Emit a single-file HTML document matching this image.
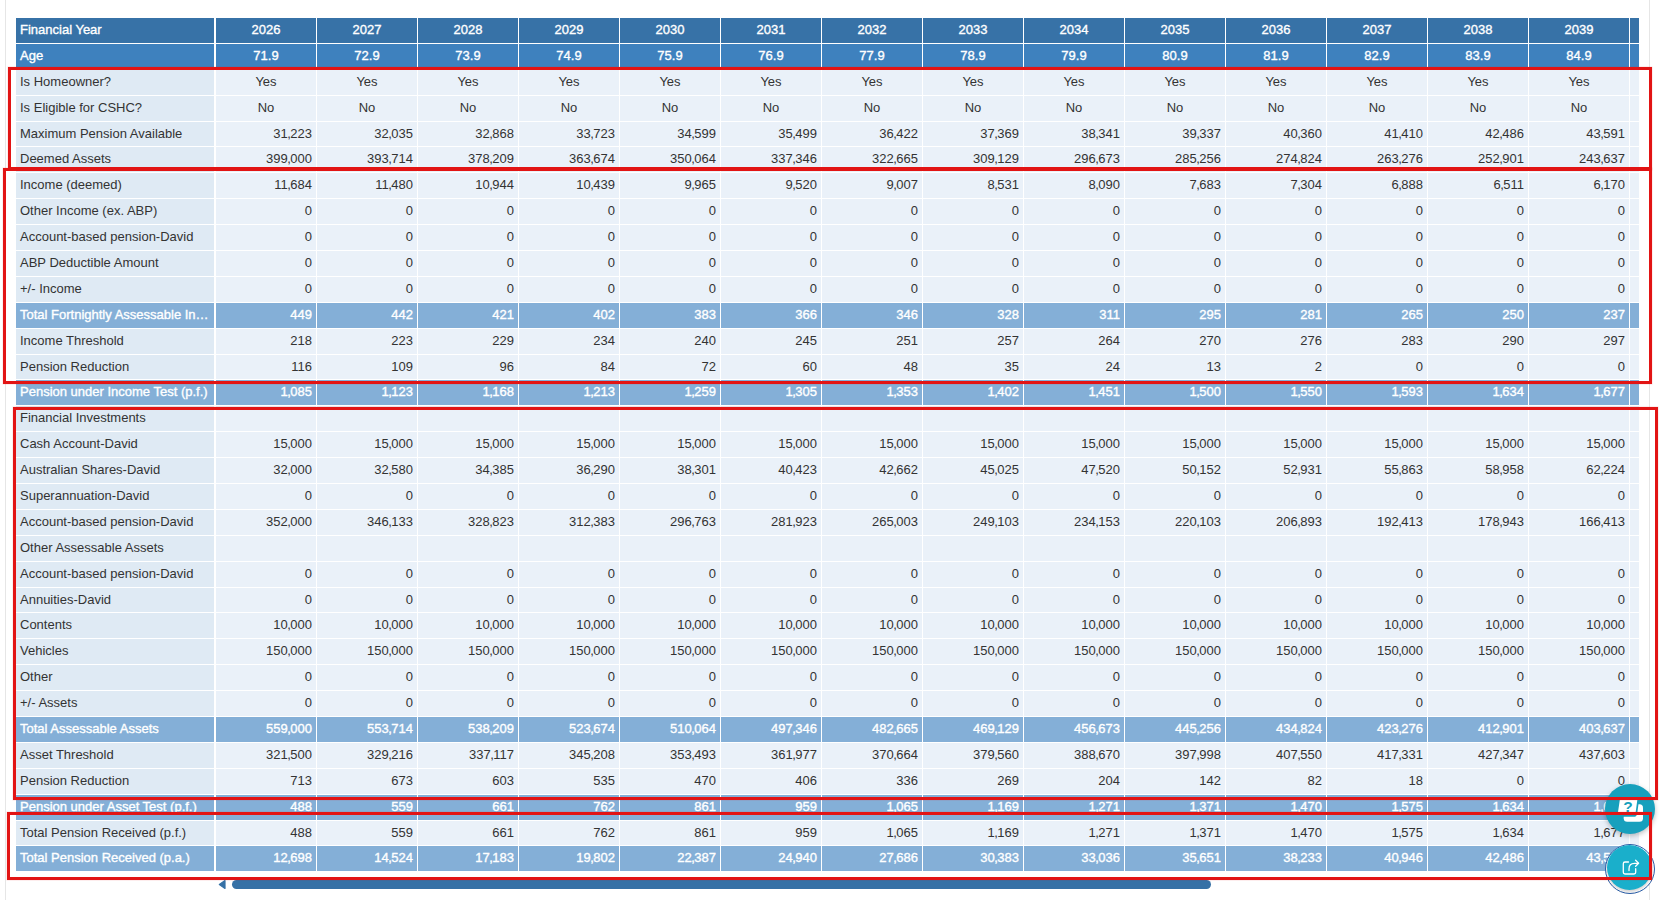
<!DOCTYPE html><html><head><meta charset="utf-8"><title>Pension Projection</title><style>
*{margin:0;padding:0;box-sizing:border-box}
html,body{width:1664px;height:900px;overflow:hidden;background:#fff}
body{position:relative;font-family:"Liberation Sans",sans-serif;font-size:13px;color:#333333}
.r{position:absolute;left:16px;width:1623px}
.r>div{position:absolute;top:0;bottom:0;white-space:nowrap;overflow:hidden;line-height:23px}
.l{left:0;width:198px;padding-left:4px;background:#dfeaf4}
.d{width:100px;background:#eaf1f9;text-align:right;padding-right:4px}
.x{left:1614px;width:9px;background:#eaf1f9}
.c .d{text-align:center;padding-right:0}
.h0>div{background:#3772a7!important;color:#fff;-webkit-text-stroke:0.35px #fff}
.h1>div{background:#3e81be!important;color:#fff;-webkit-text-stroke:0.35px #fff}
.t>div{background:#84afd7!important;color:#fff;-webkit-text-stroke:0.35px #fff}
i{font-style:normal;margin:0 -.5px}
.u>div{line-height:21px}
.dn>div{line-height:25px}
.vl{position:absolute;top:0;width:1px;height:900px;background:#e6e6e6}
.sb-thumb{position:absolute;left:232px;top:880px;width:979px;height:9px;border-radius:4.5px;background:#3671a6}
.sb-arrow{position:absolute;left:218px;top:879px;width:9px;height:11px}
.help{position:absolute;left:1605px;top:784px;width:50px;height:50px;border-radius:50%;background:#17a0bd;box-shadow:0 2px 5px rgba(0,0,0,.25);z-index:3}
.help svg,.share svg{position:absolute;left:0;top:0}
.share-ring{position:absolute;left:1605px;top:844px;width:50px;height:50px;border-radius:50%;border:1.2px solid #2a5ea8;background:#fff;z-index:3}
.share{position:absolute;left:1607px;top:845px;width:45px;height:45px;border-radius:50%;background:#1aafcb;box-shadow:0 2px 3px rgba(0,0,0,.18);z-index:4}
.bx{position:absolute;border:3px solid #e21414;z-index:5;box-shadow:0 0 0 .5px rgba(226,20,20,.15)}
</style></head><body>
<div class="vl" style="left:5px"></div><div class="vl" style="left:1649px"></div>
<div class="r h0 c" style="top:18px;height:25px"><div class="l">Financial Year</div><div class="d" style="left:200px">2026</div><div class="d" style="left:301px">2027</div><div class="d" style="left:402px">2028</div><div class="d" style="left:503px">2029</div><div class="d" style="left:604px">2030</div><div class="d" style="left:705px">2031</div><div class="d" style="left:806px">2032</div><div class="d" style="left:907px">2033</div><div class="d" style="left:1008px">2034</div><div class="d" style="left:1109px">2035</div><div class="d" style="left:1210px">2036</div><div class="d" style="left:1311px">2037</div><div class="d" style="left:1412px">2038</div><div class="d" style="left:1513px">2039</div><div class="x"></div></div>
<div class="r h1 c" style="top:44px;height:25px"><div class="l">Age</div><div class="d" style="left:200px">71.9</div><div class="d" style="left:301px">72.9</div><div class="d" style="left:402px">73.9</div><div class="d" style="left:503px">74.9</div><div class="d" style="left:604px">75.9</div><div class="d" style="left:705px">76.9</div><div class="d" style="left:806px">77.9</div><div class="d" style="left:907px">78.9</div><div class="d" style="left:1008px">79.9</div><div class="d" style="left:1109px">80.9</div><div class="d" style="left:1210px">81.9</div><div class="d" style="left:1311px">82.9</div><div class="d" style="left:1412px">83.9</div><div class="d" style="left:1513px">84.9</div><div class="x"></div></div>
<div class="r c" style="top:70px;height:25px"><div class="l">Is Homeowner?</div><div class="d" style="left:200px">Yes</div><div class="d" style="left:301px">Yes</div><div class="d" style="left:402px">Yes</div><div class="d" style="left:503px">Yes</div><div class="d" style="left:604px">Yes</div><div class="d" style="left:705px">Yes</div><div class="d" style="left:806px">Yes</div><div class="d" style="left:907px">Yes</div><div class="d" style="left:1008px">Yes</div><div class="d" style="left:1109px">Yes</div><div class="d" style="left:1210px">Yes</div><div class="d" style="left:1311px">Yes</div><div class="d" style="left:1412px">Yes</div><div class="d" style="left:1513px">Yes</div><div class="x"></div></div>
<div class="r c" style="top:96px;height:25px"><div class="l">Is Eligible for CSHC?</div><div class="d" style="left:200px">No</div><div class="d" style="left:301px">No</div><div class="d" style="left:402px">No</div><div class="d" style="left:503px">No</div><div class="d" style="left:604px">No</div><div class="d" style="left:705px">No</div><div class="d" style="left:806px">No</div><div class="d" style="left:907px">No</div><div class="d" style="left:1008px">No</div><div class="d" style="left:1109px">No</div><div class="d" style="left:1210px">No</div><div class="d" style="left:1311px">No</div><div class="d" style="left:1412px">No</div><div class="d" style="left:1513px">No</div><div class="x"></div></div>
<div class="r" style="top:122px;height:24px"><div class="l">Maximum Pension Available</div><div class="d" style="left:200px">31<i>,</i>223</div><div class="d" style="left:301px">32<i>,</i>035</div><div class="d" style="left:402px">32<i>,</i>868</div><div class="d" style="left:503px">33<i>,</i>723</div><div class="d" style="left:604px">34<i>,</i>599</div><div class="d" style="left:705px">35<i>,</i>499</div><div class="d" style="left:806px">36<i>,</i>422</div><div class="d" style="left:907px">37<i>,</i>369</div><div class="d" style="left:1008px">38<i>,</i>341</div><div class="d" style="left:1109px">39<i>,</i>337</div><div class="d" style="left:1210px">40<i>,</i>360</div><div class="d" style="left:1311px">41<i>,</i>410</div><div class="d" style="left:1412px">42<i>,</i>486</div><div class="d" style="left:1513px">43<i>,</i>591</div><div class="x"></div></div>
<div class="r" style="top:147px;height:25px"><div class="l">Deemed Assets</div><div class="d" style="left:200px">399<i>,</i>000</div><div class="d" style="left:301px">393<i>,</i>714</div><div class="d" style="left:402px">378<i>,</i>209</div><div class="d" style="left:503px">363<i>,</i>674</div><div class="d" style="left:604px">350<i>,</i>064</div><div class="d" style="left:705px">337<i>,</i>346</div><div class="d" style="left:806px">322<i>,</i>665</div><div class="d" style="left:907px">309<i>,</i>129</div><div class="d" style="left:1008px">296<i>,</i>673</div><div class="d" style="left:1109px">285<i>,</i>256</div><div class="d" style="left:1210px">274<i>,</i>824</div><div class="d" style="left:1311px">263<i>,</i>276</div><div class="d" style="left:1412px">252<i>,</i>901</div><div class="d" style="left:1513px">243<i>,</i>637</div><div class="x"></div></div>
<div class="r" style="top:173px;height:25px"><div class="l">Income (deemed)</div><div class="d" style="left:200px">11<i>,</i>684</div><div class="d" style="left:301px">11<i>,</i>480</div><div class="d" style="left:402px">10<i>,</i>944</div><div class="d" style="left:503px">10<i>,</i>439</div><div class="d" style="left:604px">9<i>,</i>965</div><div class="d" style="left:705px">9<i>,</i>520</div><div class="d" style="left:806px">9<i>,</i>007</div><div class="d" style="left:907px">8<i>,</i>531</div><div class="d" style="left:1008px">8<i>,</i>090</div><div class="d" style="left:1109px">7<i>,</i>683</div><div class="d" style="left:1210px">7<i>,</i>304</div><div class="d" style="left:1311px">6<i>,</i>888</div><div class="d" style="left:1412px">6<i>,</i>511</div><div class="d" style="left:1513px">6<i>,</i>170</div><div class="x"></div></div>
<div class="r" style="top:199px;height:25px"><div class="l">Other Income (ex. ABP)</div><div class="d" style="left:200px">0</div><div class="d" style="left:301px">0</div><div class="d" style="left:402px">0</div><div class="d" style="left:503px">0</div><div class="d" style="left:604px">0</div><div class="d" style="left:705px">0</div><div class="d" style="left:806px">0</div><div class="d" style="left:907px">0</div><div class="d" style="left:1008px">0</div><div class="d" style="left:1109px">0</div><div class="d" style="left:1210px">0</div><div class="d" style="left:1311px">0</div><div class="d" style="left:1412px">0</div><div class="d" style="left:1513px">0</div><div class="x"></div></div>
<div class="r" style="top:225px;height:25px"><div class="l">Account-based pension-David</div><div class="d" style="left:200px">0</div><div class="d" style="left:301px">0</div><div class="d" style="left:402px">0</div><div class="d" style="left:503px">0</div><div class="d" style="left:604px">0</div><div class="d" style="left:705px">0</div><div class="d" style="left:806px">0</div><div class="d" style="left:907px">0</div><div class="d" style="left:1008px">0</div><div class="d" style="left:1109px">0</div><div class="d" style="left:1210px">0</div><div class="d" style="left:1311px">0</div><div class="d" style="left:1412px">0</div><div class="d" style="left:1513px">0</div><div class="x"></div></div>
<div class="r" style="top:251px;height:25px"><div class="l">ABP Deductible Amount</div><div class="d" style="left:200px">0</div><div class="d" style="left:301px">0</div><div class="d" style="left:402px">0</div><div class="d" style="left:503px">0</div><div class="d" style="left:604px">0</div><div class="d" style="left:705px">0</div><div class="d" style="left:806px">0</div><div class="d" style="left:907px">0</div><div class="d" style="left:1008px">0</div><div class="d" style="left:1109px">0</div><div class="d" style="left:1210px">0</div><div class="d" style="left:1311px">0</div><div class="d" style="left:1412px">0</div><div class="d" style="left:1513px">0</div><div class="x"></div></div>
<div class="r" style="top:277px;height:25px"><div class="l">+/- Income</div><div class="d" style="left:200px">0</div><div class="d" style="left:301px">0</div><div class="d" style="left:402px">0</div><div class="d" style="left:503px">0</div><div class="d" style="left:604px">0</div><div class="d" style="left:705px">0</div><div class="d" style="left:806px">0</div><div class="d" style="left:907px">0</div><div class="d" style="left:1008px">0</div><div class="d" style="left:1109px">0</div><div class="d" style="left:1210px">0</div><div class="d" style="left:1311px">0</div><div class="d" style="left:1412px">0</div><div class="d" style="left:1513px">0</div><div class="x"></div></div>
<div class="r t" style="top:303px;height:25px"><div class="l">Total Fortnightly Assessable In…</div><div class="d" style="left:200px">449</div><div class="d" style="left:301px">442</div><div class="d" style="left:402px">421</div><div class="d" style="left:503px">402</div><div class="d" style="left:604px">383</div><div class="d" style="left:705px">366</div><div class="d" style="left:806px">346</div><div class="d" style="left:907px">328</div><div class="d" style="left:1008px">311</div><div class="d" style="left:1109px">295</div><div class="d" style="left:1210px">281</div><div class="d" style="left:1311px">265</div><div class="d" style="left:1412px">250</div><div class="d" style="left:1513px">237</div><div class="x"></div></div>
<div class="r" style="top:329px;height:25px"><div class="l">Income Threshold</div><div class="d" style="left:200px">218</div><div class="d" style="left:301px">223</div><div class="d" style="left:402px">229</div><div class="d" style="left:503px">234</div><div class="d" style="left:604px">240</div><div class="d" style="left:705px">245</div><div class="d" style="left:806px">251</div><div class="d" style="left:907px">257</div><div class="d" style="left:1008px">264</div><div class="d" style="left:1109px">270</div><div class="d" style="left:1210px">276</div><div class="d" style="left:1311px">283</div><div class="d" style="left:1412px">290</div><div class="d" style="left:1513px">297</div><div class="x"></div></div>
<div class="r" style="top:355px;height:24px"><div class="l">Pension Reduction</div><div class="d" style="left:200px">116</div><div class="d" style="left:301px">109</div><div class="d" style="left:402px">96</div><div class="d" style="left:503px">84</div><div class="d" style="left:604px">72</div><div class="d" style="left:705px">60</div><div class="d" style="left:806px">48</div><div class="d" style="left:907px">35</div><div class="d" style="left:1008px">24</div><div class="d" style="left:1109px">13</div><div class="d" style="left:1210px">2</div><div class="d" style="left:1311px">0</div><div class="d" style="left:1412px">0</div><div class="d" style="left:1513px">0</div><div class="x"></div></div>
<div class="r t" style="top:380px;height:25px"><div class="l">Pension under Income Test (p.f.)</div><div class="d" style="left:200px">1<i>,</i>085</div><div class="d" style="left:301px">1<i>,</i>123</div><div class="d" style="left:402px">1<i>,</i>168</div><div class="d" style="left:503px">1<i>,</i>213</div><div class="d" style="left:604px">1<i>,</i>259</div><div class="d" style="left:705px">1<i>,</i>305</div><div class="d" style="left:806px">1<i>,</i>353</div><div class="d" style="left:907px">1<i>,</i>402</div><div class="d" style="left:1008px">1<i>,</i>451</div><div class="d" style="left:1109px">1<i>,</i>500</div><div class="d" style="left:1210px">1<i>,</i>550</div><div class="d" style="left:1311px">1<i>,</i>593</div><div class="d" style="left:1412px">1<i>,</i>634</div><div class="d" style="left:1513px">1<i>,</i>677</div><div class="x"></div></div>
<div class="r" style="top:406px;height:25px"><div class="l">Financial Investments</div><div class="d" style="left:200px"></div><div class="d" style="left:301px"></div><div class="d" style="left:402px"></div><div class="d" style="left:503px"></div><div class="d" style="left:604px"></div><div class="d" style="left:705px"></div><div class="d" style="left:806px"></div><div class="d" style="left:907px"></div><div class="d" style="left:1008px"></div><div class="d" style="left:1109px"></div><div class="d" style="left:1210px"></div><div class="d" style="left:1311px"></div><div class="d" style="left:1412px"></div><div class="d" style="left:1513px"></div><div class="x"></div></div>
<div class="r" style="top:432px;height:25px"><div class="l">Cash Account-David</div><div class="d" style="left:200px">15<i>,</i>000</div><div class="d" style="left:301px">15<i>,</i>000</div><div class="d" style="left:402px">15<i>,</i>000</div><div class="d" style="left:503px">15<i>,</i>000</div><div class="d" style="left:604px">15<i>,</i>000</div><div class="d" style="left:705px">15<i>,</i>000</div><div class="d" style="left:806px">15<i>,</i>000</div><div class="d" style="left:907px">15<i>,</i>000</div><div class="d" style="left:1008px">15<i>,</i>000</div><div class="d" style="left:1109px">15<i>,</i>000</div><div class="d" style="left:1210px">15<i>,</i>000</div><div class="d" style="left:1311px">15<i>,</i>000</div><div class="d" style="left:1412px">15<i>,</i>000</div><div class="d" style="left:1513px">15<i>,</i>000</div><div class="x"></div></div>
<div class="r" style="top:458px;height:25px"><div class="l">Australian Shares-David</div><div class="d" style="left:200px">32<i>,</i>000</div><div class="d" style="left:301px">32<i>,</i>580</div><div class="d" style="left:402px">34<i>,</i>385</div><div class="d" style="left:503px">36<i>,</i>290</div><div class="d" style="left:604px">38<i>,</i>301</div><div class="d" style="left:705px">40<i>,</i>423</div><div class="d" style="left:806px">42<i>,</i>662</div><div class="d" style="left:907px">45<i>,</i>025</div><div class="d" style="left:1008px">47<i>,</i>520</div><div class="d" style="left:1109px">50<i>,</i>152</div><div class="d" style="left:1210px">52<i>,</i>931</div><div class="d" style="left:1311px">55<i>,</i>863</div><div class="d" style="left:1412px">58<i>,</i>958</div><div class="d" style="left:1513px">62<i>,</i>224</div><div class="x"></div></div>
<div class="r" style="top:484px;height:25px"><div class="l">Superannuation-David</div><div class="d" style="left:200px">0</div><div class="d" style="left:301px">0</div><div class="d" style="left:402px">0</div><div class="d" style="left:503px">0</div><div class="d" style="left:604px">0</div><div class="d" style="left:705px">0</div><div class="d" style="left:806px">0</div><div class="d" style="left:907px">0</div><div class="d" style="left:1008px">0</div><div class="d" style="left:1109px">0</div><div class="d" style="left:1210px">0</div><div class="d" style="left:1311px">0</div><div class="d" style="left:1412px">0</div><div class="d" style="left:1513px">0</div><div class="x"></div></div>
<div class="r" style="top:510px;height:25px"><div class="l">Account-based pension-David</div><div class="d" style="left:200px">352<i>,</i>000</div><div class="d" style="left:301px">346<i>,</i>133</div><div class="d" style="left:402px">328<i>,</i>823</div><div class="d" style="left:503px">312<i>,</i>383</div><div class="d" style="left:604px">296<i>,</i>763</div><div class="d" style="left:705px">281<i>,</i>923</div><div class="d" style="left:806px">265<i>,</i>003</div><div class="d" style="left:907px">249<i>,</i>103</div><div class="d" style="left:1008px">234<i>,</i>153</div><div class="d" style="left:1109px">220<i>,</i>103</div><div class="d" style="left:1210px">206<i>,</i>893</div><div class="d" style="left:1311px">192<i>,</i>413</div><div class="d" style="left:1412px">178<i>,</i>943</div><div class="d" style="left:1513px">166<i>,</i>413</div><div class="x"></div></div>
<div class="r" style="top:536px;height:25px"><div class="l">Other Assessable Assets</div><div class="d" style="left:200px"></div><div class="d" style="left:301px"></div><div class="d" style="left:402px"></div><div class="d" style="left:503px"></div><div class="d" style="left:604px"></div><div class="d" style="left:705px"></div><div class="d" style="left:806px"></div><div class="d" style="left:907px"></div><div class="d" style="left:1008px"></div><div class="d" style="left:1109px"></div><div class="d" style="left:1210px"></div><div class="d" style="left:1311px"></div><div class="d" style="left:1412px"></div><div class="d" style="left:1513px"></div><div class="x"></div></div>
<div class="r" style="top:562px;height:25px"><div class="l">Account-based pension-David</div><div class="d" style="left:200px">0</div><div class="d" style="left:301px">0</div><div class="d" style="left:402px">0</div><div class="d" style="left:503px">0</div><div class="d" style="left:604px">0</div><div class="d" style="left:705px">0</div><div class="d" style="left:806px">0</div><div class="d" style="left:907px">0</div><div class="d" style="left:1008px">0</div><div class="d" style="left:1109px">0</div><div class="d" style="left:1210px">0</div><div class="d" style="left:1311px">0</div><div class="d" style="left:1412px">0</div><div class="d" style="left:1513px">0</div><div class="x"></div></div>
<div class="r" style="top:588px;height:24px"><div class="l">Annuities-David</div><div class="d" style="left:200px">0</div><div class="d" style="left:301px">0</div><div class="d" style="left:402px">0</div><div class="d" style="left:503px">0</div><div class="d" style="left:604px">0</div><div class="d" style="left:705px">0</div><div class="d" style="left:806px">0</div><div class="d" style="left:907px">0</div><div class="d" style="left:1008px">0</div><div class="d" style="left:1109px">0</div><div class="d" style="left:1210px">0</div><div class="d" style="left:1311px">0</div><div class="d" style="left:1412px">0</div><div class="d" style="left:1513px">0</div><div class="x"></div></div>
<div class="r" style="top:613px;height:25px"><div class="l">Contents</div><div class="d" style="left:200px">10<i>,</i>000</div><div class="d" style="left:301px">10<i>,</i>000</div><div class="d" style="left:402px">10<i>,</i>000</div><div class="d" style="left:503px">10<i>,</i>000</div><div class="d" style="left:604px">10<i>,</i>000</div><div class="d" style="left:705px">10<i>,</i>000</div><div class="d" style="left:806px">10<i>,</i>000</div><div class="d" style="left:907px">10<i>,</i>000</div><div class="d" style="left:1008px">10<i>,</i>000</div><div class="d" style="left:1109px">10<i>,</i>000</div><div class="d" style="left:1210px">10<i>,</i>000</div><div class="d" style="left:1311px">10<i>,</i>000</div><div class="d" style="left:1412px">10<i>,</i>000</div><div class="d" style="left:1513px">10<i>,</i>000</div><div class="x"></div></div>
<div class="r" style="top:639px;height:25px"><div class="l">Vehicles</div><div class="d" style="left:200px">150<i>,</i>000</div><div class="d" style="left:301px">150<i>,</i>000</div><div class="d" style="left:402px">150<i>,</i>000</div><div class="d" style="left:503px">150<i>,</i>000</div><div class="d" style="left:604px">150<i>,</i>000</div><div class="d" style="left:705px">150<i>,</i>000</div><div class="d" style="left:806px">150<i>,</i>000</div><div class="d" style="left:907px">150<i>,</i>000</div><div class="d" style="left:1008px">150<i>,</i>000</div><div class="d" style="left:1109px">150<i>,</i>000</div><div class="d" style="left:1210px">150<i>,</i>000</div><div class="d" style="left:1311px">150<i>,</i>000</div><div class="d" style="left:1412px">150<i>,</i>000</div><div class="d" style="left:1513px">150<i>,</i>000</div><div class="x"></div></div>
<div class="r" style="top:665px;height:25px"><div class="l">Other</div><div class="d" style="left:200px">0</div><div class="d" style="left:301px">0</div><div class="d" style="left:402px">0</div><div class="d" style="left:503px">0</div><div class="d" style="left:604px">0</div><div class="d" style="left:705px">0</div><div class="d" style="left:806px">0</div><div class="d" style="left:907px">0</div><div class="d" style="left:1008px">0</div><div class="d" style="left:1109px">0</div><div class="d" style="left:1210px">0</div><div class="d" style="left:1311px">0</div><div class="d" style="left:1412px">0</div><div class="d" style="left:1513px">0</div><div class="x"></div></div>
<div class="r" style="top:691px;height:25px"><div class="l">+/- Assets</div><div class="d" style="left:200px">0</div><div class="d" style="left:301px">0</div><div class="d" style="left:402px">0</div><div class="d" style="left:503px">0</div><div class="d" style="left:604px">0</div><div class="d" style="left:705px">0</div><div class="d" style="left:806px">0</div><div class="d" style="left:907px">0</div><div class="d" style="left:1008px">0</div><div class="d" style="left:1109px">0</div><div class="d" style="left:1210px">0</div><div class="d" style="left:1311px">0</div><div class="d" style="left:1412px">0</div><div class="d" style="left:1513px">0</div><div class="x"></div></div>
<div class="r t" style="top:717px;height:25px"><div class="l">Total Assessable Assets</div><div class="d" style="left:200px">559<i>,</i>000</div><div class="d" style="left:301px">553<i>,</i>714</div><div class="d" style="left:402px">538<i>,</i>209</div><div class="d" style="left:503px">523<i>,</i>674</div><div class="d" style="left:604px">510<i>,</i>064</div><div class="d" style="left:705px">497<i>,</i>346</div><div class="d" style="left:806px">482<i>,</i>665</div><div class="d" style="left:907px">469<i>,</i>129</div><div class="d" style="left:1008px">456<i>,</i>673</div><div class="d" style="left:1109px">445<i>,</i>256</div><div class="d" style="left:1210px">434<i>,</i>824</div><div class="d" style="left:1311px">423<i>,</i>276</div><div class="d" style="left:1412px">412<i>,</i>901</div><div class="d" style="left:1513px">403<i>,</i>637</div><div class="x"></div></div>
<div class="r" style="top:743px;height:25px"><div class="l">Asset Threshold</div><div class="d" style="left:200px">321<i>,</i>500</div><div class="d" style="left:301px">329<i>,</i>216</div><div class="d" style="left:402px">337<i>,</i>117</div><div class="d" style="left:503px">345<i>,</i>208</div><div class="d" style="left:604px">353<i>,</i>493</div><div class="d" style="left:705px">361<i>,</i>977</div><div class="d" style="left:806px">370<i>,</i>664</div><div class="d" style="left:907px">379<i>,</i>560</div><div class="d" style="left:1008px">388<i>,</i>670</div><div class="d" style="left:1109px">397<i>,</i>998</div><div class="d" style="left:1210px">407<i>,</i>550</div><div class="d" style="left:1311px">417<i>,</i>331</div><div class="d" style="left:1412px">427<i>,</i>347</div><div class="d" style="left:1513px">437<i>,</i>603</div><div class="x"></div></div>
<div class="r" style="top:769px;height:25px"><div class="l">Pension Reduction</div><div class="d" style="left:200px">713</div><div class="d" style="left:301px">673</div><div class="d" style="left:402px">603</div><div class="d" style="left:503px">535</div><div class="d" style="left:604px">470</div><div class="d" style="left:705px">406</div><div class="d" style="left:806px">336</div><div class="d" style="left:907px">269</div><div class="d" style="left:1008px">204</div><div class="d" style="left:1109px">142</div><div class="d" style="left:1210px">82</div><div class="d" style="left:1311px">18</div><div class="d" style="left:1412px">0</div><div class="d" style="left:1513px">0</div><div class="x"></div></div>
<div class="r t" style="top:795px;height:25px"><div class="l">Pension under Asset Test (p.f.)</div><div class="d" style="left:200px">488</div><div class="d" style="left:301px">559</div><div class="d" style="left:402px">661</div><div class="d" style="left:503px">762</div><div class="d" style="left:604px">861</div><div class="d" style="left:705px">959</div><div class="d" style="left:806px">1<i>,</i>065</div><div class="d" style="left:907px">1<i>,</i>169</div><div class="d" style="left:1008px">1<i>,</i>271</div><div class="d" style="left:1109px">1<i>,</i>371</div><div class="d" style="left:1210px">1<i>,</i>470</div><div class="d" style="left:1311px">1<i>,</i>575</div><div class="d" style="left:1412px">1<i>,</i>634</div><div class="d" style="left:1513px">1<i>,</i>677</div><div class="x"></div></div>
<div class="r" style="top:821px;height:24px"><div class="l">Total Pension Received (p.f.)</div><div class="d" style="left:200px">488</div><div class="d" style="left:301px">559</div><div class="d" style="left:402px">661</div><div class="d" style="left:503px">762</div><div class="d" style="left:604px">861</div><div class="d" style="left:705px">959</div><div class="d" style="left:806px">1<i>,</i>065</div><div class="d" style="left:907px">1<i>,</i>169</div><div class="d" style="left:1008px">1<i>,</i>271</div><div class="d" style="left:1109px">1<i>,</i>371</div><div class="d" style="left:1210px">1<i>,</i>470</div><div class="d" style="left:1311px">1<i>,</i>575</div><div class="d" style="left:1412px">1<i>,</i>634</div><div class="d" style="left:1513px">1<i>,</i>677</div><div class="x"></div></div>
<div class="r t" style="top:846px;height:25px"><div class="l">Total Pension Received (p.a.)</div><div class="d" style="left:200px">12<i>,</i>698</div><div class="d" style="left:301px">14<i>,</i>524</div><div class="d" style="left:402px">17<i>,</i>183</div><div class="d" style="left:503px">19<i>,</i>802</div><div class="d" style="left:604px">22<i>,</i>387</div><div class="d" style="left:705px">24<i>,</i>940</div><div class="d" style="left:806px">27<i>,</i>686</div><div class="d" style="left:907px">30<i>,</i>383</div><div class="d" style="left:1008px">33<i>,</i>036</div><div class="d" style="left:1109px">35<i>,</i>651</div><div class="d" style="left:1210px">38<i>,</i>233</div><div class="d" style="left:1311px">40<i>,</i>946</div><div class="d" style="left:1412px">42<i>,</i>486</div><div class="d" style="left:1513px">43<i>,</i>591</div><div class="x"></div></div>
<div class="bx" style="left:8px;top:67px;width:1644px;height:103px"></div>
<div class="bx" style="left:3px;top:168px;width:1649px;height:216px"></div>
<div class="bx" style="left:13px;top:407px;width:1645px;height:393px"></div>
<div class="bx" style="left:7px;top:812px;width:1645px;height:68px"></div>

<svg class="sb-arrow" viewBox="0 0 9 11"><path d="M7 1.6 L1.3 5.5 L7 9.4 Z" fill="#3671a6" stroke="#3671a6" stroke-width="1.2" stroke-linejoin="round"/></svg><div class="sb-thumb"></div>
<div class="help"><svg width="50" height="50" viewBox="0 0 50 50">
<rect x="18.7" y="20.3" width="19.3" height="17.4" rx="3.5" fill="#fff"/>
<path d="M17 13.6 H31 Q32.6 13.6 32.4 15.2 L30.5 29.4 Q30.3 31 28.7 31 H14.2 Q12.6 31 12.8 29.4 L14.9 15.2 Q15.1 13.6 17 13.6 Z" fill="#17a0bd" stroke="#17a0bd" stroke-width="3.4" stroke-linejoin="round"/>
<path d="M17 13.6 H31 Q32.6 13.6 32.4 15.2 L30.5 29.4 Q30.3 31 28.7 31 H14.2 Q12.6 31 12.8 29.4 L14.9 15.2 Q15.1 13.6 17 13.6 Z" fill="#fff"/>
<text x="23" y="27.5" font-family="Liberation Sans, sans-serif" font-weight="bold" font-size="15.5" fill="#17a0bd" text-anchor="middle">?</text>
</svg></div>
<div class="share-ring"></div>
<div class="share"><svg width="46" height="46" viewBox="0 0 46 46">
<path d="M21.5 17 H18 Q16.3 17 16.3 18.7 V27.3 Q16.3 29 18 29 H27 Q28.7 29 28.7 27.3 V23.7" fill="none" stroke="#fff" stroke-width="1.3" stroke-linecap="round"/>
<path d="M22 25.5 V24 Q22 18.3 27.5 18.3 H31.3" fill="none" stroke="#fff" stroke-width="1.3" stroke-linecap="round"/>
<path d="M28.6 15.3 L31.6 18.3 L28.6 21.3" fill="none" stroke="#fff" stroke-width="1.3" stroke-linecap="round" stroke-linejoin="round"/>
</svg></div>

</body></html>
